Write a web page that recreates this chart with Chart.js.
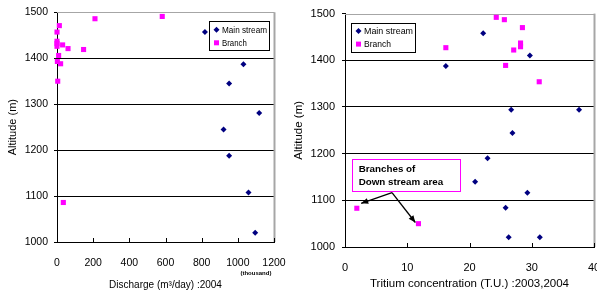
<!DOCTYPE html>
<html>
<head>
<meta charset="utf-8">
<script src="https://cdn.jsdelivr.net/npm/chart.js@4/dist/chart.umd.min.js"></script>
<style>
  html, body { margin: 0; padding: 0; background: #fff; overflow: hidden; width: 597px; height: 297px; }
  .wrap { position: absolute; top: 0; }
  canvas { display: block; }
</style>
</head>
<body>
<div class="wrap" style="left:0px;width:297px;height:297px;"><canvas id="c1" width="297" height="297"></canvas></div>
<div class="wrap" style="left:290px;width:327px;height:297px;"><canvas id="c2" width="327" height="297"></canvas></div>
<script>
// ---------- Data ----------
const seriesNames = ['Main stream', 'Branch'];

// Left chart: Discharge (thousand m3/day) vs Altitude (m)
const leftMainX   = [818, 1031, 952, 1118, 921, 952, 1059, 1096];
const leftMainY   = [1457, 1387, 1345, 1281, 1245, 1188, 1108, 1020];
const leftBranchX = [0, 13, 0, 0, 0, 31, 61, 147, 210, 582, 9, 2, 20, 4, 35];
const leftBranchY = [1457, 1471, 1437, 1432, 1426, 1429, 1421, 1419, 1486, 1491, 1406, 1393, 1388, 1350, 1086];

// Right chart: Tritium concentration (T.U.) vs Altitude (m)
const rightMainX   = [16.2, 22.2, 29.7, 26.7, 37.6, 26.9, 22.9, 20.9, 29.3, 25.8, 26.3, 31.3];
const rightMainY   = [1388, 1458, 1410, 1294, 1294, 1244, 1190, 1140, 1116, 1084, 1021, 1021];
const rightBranchX = [16.2, 24.3, 25.6, 28.5, 28.2, 28.2, 27.1, 25.8, 31.2, 1.9, 11.8];
const rightBranchY = [1427, 1492, 1487, 1470, 1437, 1429, 1422, 1389, 1354, 1083, 1050];

// Axis ranges / labels
const altitudeRange = [1000, 1500, 100];
const dischargeRange = [0, 1200, 200];
const tritiumRange = [0, 40, 10];
const yTitle = 'Altitude (m)';
const leftXTitle = 'Discharge (m³/day) :2004';
const rightXTitle = 'Tritium concentration (T.U.) :2003,2004';
const unitNote = '(thousand)';
const annotationLines = ['Branches of', 'Down stream area'];

// ---------- Helpers ----------
const FONT = "'Liberation Sans', Arial, sans-serif";
const NAVY = '#000080';
const MAGENTA = '#FF00FF';

function pts(xs, ys) { return xs.map((x, i) => ({ x: x, y: ys[i] })); }

function datasets(mx, my, bx, by) {
  return [
    { label: seriesNames[0], data: pts(mx, my), pointStyle: 'rectRot', pointRadius: 3,
      backgroundColor: NAVY, borderColor: NAVY, borderWidth: 0, clip: false, showLine: false },
    { label: seriesNames[1], data: pts(bx, by), pointStyle: 'rect', pointRadius: 3.6,
      backgroundColor: MAGENTA, borderColor: MAGENTA, borderWidth: 0, clip: false, showLine: false }
  ];
}

function drawDiamond(ctx, x, y, r, color) {
  ctx.fillStyle = color;
  ctx.beginPath();
  ctx.moveTo(x, y - r); ctx.lineTo(x + r, y); ctx.lineTo(x, y + r); ctx.lineTo(x - r, y);
  ctx.closePath(); ctx.fill();
}

const framePlugin = {
  id: 'frame',
  beforeDatasetsDraw(chart) {
    const { ctx, chartArea: a } = chart;
    ctx.save();
    ctx.strokeStyle = '#a6a6a6';
    ctx.lineWidth = 1;
    ctx.beginPath();
    ctx.moveTo(a.left, Math.round(a.top) + 0.5);
    ctx.lineTo(a.right + 0.5, Math.round(a.top) + 0.5);
    ctx.stroke();
    ctx.lineWidth = 2;
    ctx.beginPath();
    ctx.moveTo(Math.round(a.right) + 0.5, a.top);
    ctx.lineTo(Math.round(a.right) + 0.5, a.bottom);
    ctx.stroke();
    // inside x tick marks
    const xs = chart.scales.x;
    ctx.strokeStyle = '#000';
    ctx.lineWidth = 1;
    xs.ticks.forEach((t, i) => {
      const px = Math.round(xs.getPixelForTick(i)) + 0.5;
      ctx.beginPath();
      ctx.moveTo(px, a.bottom);
      ctx.lineTo(px, a.bottom - 4);
      ctx.stroke();
    });
    ctx.restore();
  }
};

function legendPlugin(anchor) {
  return {
    id: 'boxLegend',
    afterDatasetsDraw(chart) {
      const { ctx, chartArea: a } = chart;
      const w = anchor.w, h = 29;
      const x0 = anchor.side === 'right' ? a.right - anchor.off - w : a.left + anchor.off;
      const y0 = a.top + 9;
      ctx.save();
      ctx.fillStyle = '#fff';
      ctx.fillRect(x0, y0, w, h);
      ctx.strokeStyle = '#000';
      ctx.lineWidth = 1;
      ctx.strokeRect(Math.round(x0) + 0.5, Math.round(y0) + 0.5, w, h);
      ctx.font = '9.5px ' + FONT;
      ctx.fillStyle = '#000';
      ctx.textBaseline = 'middle';
      const ds = chart.data.datasets;
      // entry 1
      drawDiamond(ctx, x0 + 7.5, y0 + 8.5, 3, ds[0].backgroundColor);
      ctx.fillStyle = '#000';
      ctx.fillText(ds[0].label, x0 + 13, y0 + 9, anchor.tw);
      // entry 2
      ctx.fillStyle = ds[1].backgroundColor;
      ctx.fillRect(x0 + 5, y0 + 19, 5, 5);
      ctx.fillStyle = '#000';
      ctx.fillText(ds[1].label, x0 + 13, y0 + 22, anchor.tw * 0.55);
      ctx.restore();
    }
  };
}

const unitPlugin = {
  id: 'unitNote',
  afterDraw(chart) {
    const { ctx, chartArea: a } = chart;
    const xs = chart.scales.x;
    ctx.save();
    ctx.font = 'bold 6px ' + FONT;
    ctx.fillStyle = '#000';
    ctx.textAlign = 'center';
    ctx.textBaseline = 'middle';
    ctx.fillText(unitNote, xs.getPixelForValue(1100), a.bottom + 31);
    ctx.restore();
  }
};

const annotationPlugin = {
  id: 'annot',
  afterDatasetsDraw(chart) {
    const { ctx } = chart;
    const xs = chart.scales.x, ys = chart.scales.y;
    const X = v => xs.getPixelForValue(v), Y = v => ys.getPixelForValue(v);
    ctx.save();
    // box
    const bx1 = Math.round(X(1.12)) + 0.5, bx2 = Math.round(X(18.47)) + 0.5;
    const by1 = Math.round(Y(1188.6)) + 0.5, by2 = Math.round(Y(1120.8)) + 0.5;
    ctx.fillStyle = '#fff';
    ctx.fillRect(bx1, by1, bx2 - bx1, by2 - by1);
    ctx.strokeStyle = MAGENTA;
    ctx.lineWidth = 1;
    ctx.strokeRect(bx1, by1, bx2 - bx1, by2 - by1);
    ctx.font = 'bold 9.8px ' + FONT;
    ctx.fillStyle = '#000';
    ctx.textBaseline = 'middle';
    ctx.fillText(annotationLines[0], X(2.2), Y(1167));
    ctx.fillText(annotationLines[1], X(2.2), Y(1138.5));
    // arrows
    const ox = X(7.55), oy = Y(1116.5);
    const ends = [[X(2.6), Y(1093.6)], [X(11.3), Y(1052.5)]];
    ctx.strokeStyle = '#000';
    ctx.fillStyle = '#000';
    ctx.lineWidth = 1.3;
    ends.forEach(([ex, ey]) => {
      ctx.beginPath();
      ctx.moveTo(ox, oy);
      ctx.lineTo(ex, ey);
      ctx.stroke();
      const ang = Math.atan2(ey - oy, ex - ox);
      const L = 7, W = 3;
      ctx.beginPath();
      ctx.moveTo(ex, ey);
      ctx.lineTo(ex - L * Math.cos(ang) + W * Math.sin(ang), ey - L * Math.sin(ang) - W * Math.cos(ang));
      ctx.lineTo(ex - L * Math.cos(ang) - W * Math.sin(ang), ey - L * Math.sin(ang) + W * Math.cos(ang));
      ctx.closePath();
      ctx.fill();
    });
    ctx.restore();
  }
};

const plainTick = v => String(v);

function makeOptions(cfg) {
  return {
    responsive: false,
    animation: false,
    devicePixelRatio: 1,
    layout: { padding: { top: 11, right: cfg.padRight, left: 0, bottom: 0 } },
    plugins: { legend: { display: false }, tooltip: { enabled: false } },
    scales: {
      x: {
        type: 'linear',
        min: cfg.xRange[0], max: cfg.xRange[1],
        afterFit: s => { s.height = cfg.xHeight; },
        ticks: { stepSize: cfg.xRange[2], color: '#000', padding: cfg.xTickPad, callback: plainTick,
                 font: { family: FONT, size: cfg.tickSize } },
        grid: { display: false },
        border: { display: true, color: '#000', width: 1 },
        title: { display: true, text: cfg.xTitle, color: '#000',
                 font: { family: FONT, size: cfg.xTitleSize },
                 padding: { top: 0, bottom: cfg.xTitlePad } }
      },
      y: {
        type: 'linear',
        min: altitudeRange[0], max: altitudeRange[1],
        afterFit: s => { s.width = cfg.yWidth; },
        ticks: { stepSize: altitudeRange[2], color: '#000', padding: cfg.yTickPad, callback: plainTick,
                 font: { family: FONT, size: cfg.tickSize } },
        grid: {
          color: c => (c.tick && (c.tick.value === altitudeRange[0] || c.tick.value === altitudeRange[1])) ? 'rgba(0,0,0,0)' : '#000',
          tickColor: '#000', tickLength: 3, lineWidth: 1
        },
        border: { display: true, color: '#000', width: 1 },
        title: { display: true, text: yTitle, color: '#000',
                 font: { family: FONT, size: cfg.yTitleSize },
                 padding: { top: cfg.yTitlePad, bottom: 0 } }
      }
    }
  };
}

new Chart(document.getElementById('c1'), {
  type: 'scatter',
  data: { datasets: datasets(leftMainX, leftMainY, leftBranchX, leftBranchY) },
  options: makeOptions({
    padRight: 23, xRange: dischargeRange, xHeight: 55, tickSize: 10.5, xTickPad: 6.5,
    xTitle: leftXTitle, xTitleSize: 10, xTitlePad: 6,
    yWidth: 57, yTickPad: 6, yTitleSize: 11, yTitlePad: 6.7
  }),
  plugins: [framePlugin, legendPlugin({ side: 'right', off: 5, w: 60, tw: 45 }), unitPlugin]
});

new Chart(document.getElementById('c2'), {
  type: 'scatter',
  data: { datasets: datasets(rightMainX, rightMainY, rightBranchX, rightBranchY) },
  options: makeOptions({
    padRight: 23, xRange: tritiumRange, xHeight: 50, tickSize: 11, xTickPad: 6,
    xTitle: rightXTitle, xTitleSize: 11.5, xTitlePad: 6,
    yWidth: 55, yTickPad: 7, yTitleSize: 11.5, yTitlePad: 2.3
  }),
  plugins: [framePlugin, legendPlugin({ side: 'left', off: 6, w: 64, tw: 49 }), annotationPlugin]
});
</script>
</body>
</html>
